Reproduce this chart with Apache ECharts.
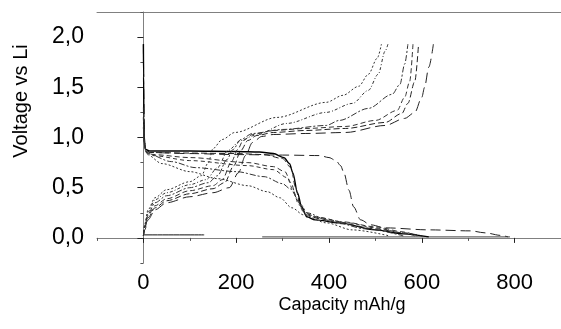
<!DOCTYPE html>
<html><head><meta charset="utf-8">
<script src="https://cdn.jsdelivr.net/npm/echarts@6/dist/echarts.min.js"></script>
<style>html,body{margin:0;padding:0;background:#fff}#c{width:561px;height:329px}</style>
</head><body><div id="c"></div>
<script>
// ---- tick values ----
const xMajorTicks = [0, 200, 400, 600, 800];
const xMinorTicks = [-100, 100, 300, 500, 700];
const yMajorTicks = [0, 0.5, 1.0, 1.5, 2.0];
const yMinorTicks = [-0.25, 0.25, 0.75, 1.25, 1.75, 2.25];

// ---- discharge curves [capacity mAh/g, voltage V] ----
const dis1 = [[0,1.93],[1,1.4],[2,1.0],[5,0.88],[15,0.85],[100,0.84],[200,0.83],[300,0.825],[380,0.82],[400,0.80],[415,0.77],[425,0.72],[432,0.65],[443,0.475],[453,0.31],[468,0.18],[490,0.13],[521,0.10],[616,0.08],[705,0.07],[737,0.05],[770,0.025],[786,0.01]];
const dis2 = [[0,1.93],[0.5,1.6],[1,1.2],[2,0.95],[5,0.88],[15,0.865],[100,0.865],[200,0.86],[250,0.855],[280,0.84],[303,0.80],[315,0.74],[322,0.65],[332,0.45],[341,0.31],[352,0.21],[370,0.18],[422,0.15],[500,0.08],[560,0.04],[615,0.01]];
const dis3 = [[0,1.3],[2,0.95],[5,0.87],[15,0.85],[100,0.845],[200,0.84],[260,0.83],[300,0.79],[318,0.70],[328,0.50],[338,0.33],[350,0.23],[380,0.19],[430,0.14],[500,0.09],[560,0.05],[600,0.02]];
const dis4 = [[0,1.2],[2,0.95],[5,0.86],[20,0.83],[100,0.80],[225,0.75],[280,0.71],[305,0.66],[318,0.55],[330,0.40],[345,0.26],[370,0.21],[430,0.16],[500,0.11],[560,0.06],[590,0.02]];
const dis5 = [[0,1.2],[2,0.95],[5,0.86],[20,0.82],[100,0.77],[225,0.72],[280,0.68],[310,0.60],[322,0.48],[335,0.33],[350,0.24],[380,0.20],[440,0.15],[500,0.10],[560,0.05],[585,0.02]];
const dis6 = [[0,1.1],[3,0.9],[8,0.84],[60,0.76],[112,0.70],[200,0.66],[260,0.61],[300,0.54],[316,0.49],[340,0.33],[352,0.25],[400,0.17],[480,0.09],[560,0.02]];
const dis7 = [[0,1.1],[3,0.9],[8,0.83],[40,0.74],[100,0.66],[160,0.59],[225,0.52],[267,0.46],[294,0.40],[320,0.30],[345,0.23],[394,0.15],[450,0.08],[530,0.02]];

// ---- charge curves ----
const chg1 = [[0,0.02],[3,0.08],[10,0.18],[25,0.28],[50,0.35],[100,0.41],[150,0.45],[185,0.50],[205,0.65],[220,0.82],[235,0.95],[255,1.01],[280,1.03],[350,1.04],[436,1.05],[521,1.12],[563,1.19],[585,1.25],[600,1.4],[606,1.5],[615,1.7],[625,1.93]];
const chg2 = [[0,0.02],[3,0.1],[10,0.2],[25,0.30],[50,0.37],[100,0.44],[150,0.49],[175,0.55],[195,0.72],[210,0.87],[225,0.97],[245,1.02],[280,1.05],[350,1.07],[436,1.09],[521,1.15],[557,1.24],[570,1.34],[585,1.56],[593,1.93]];
const chg3 = [[0,0.02],[3,0.11],[10,0.22],[25,0.32],[50,0.39],[100,0.47],[150,0.52],[170,0.58],[190,0.76],[203,0.88],[215,0.97],[235,1.03],[280,1.07],[350,1.09],[436,1.11],[500,1.17],[547,1.27],[563,1.40],[574,1.56],[581,1.93]];
const chg4 = [[0,0.02],[3,0.12],[10,0.24],[25,0.35],[50,0.42],[100,0.50],[140,0.55],[160,0.62],[180,0.78],[193,0.88],[210,0.98],[235,1.04],[300,1.08],[394,1.12],[422,1.17],[485,1.29],[536,1.43],[553,1.53],[563,1.73],[570,1.93]];
const chg5 = [[0,0.02],[3,0.13],[10,0.26],[25,0.38],[50,0.45],[100,0.53],[135,0.58],[160,0.70],[182,0.87],[210,0.97],[239,1.02],[309,1.14],[394,1.25],[451,1.34],[485,1.47],[506,1.63],[521,1.86],[527,1.93]];
const chg6 = [[0,0.02],[3,0.14],[10,0.28],[25,0.40],[50,0.48],[100,0.56],[125,0.62],[140,0.75],[150,0.89],[170,0.98],[197,1.05],[288,1.20],[394,1.35],[430,1.42],[464,1.51],[485,1.63],[504,1.79],[513,1.93]];

// ---- flat segments near 0 V ----
const flatA = [[0,0.03],[131,0.03]];
const flatB = [[256,0.01],[790,0.01]];

const fmtY = v => v.toFixed(1).replace('.', ',');

function curve(data, dash, color, width) {
  return {
    type: 'line', data: data, showSymbol: false, symbol: 'none',
    smooth: 0.3, smoothMonotone: 'x', silent: true, animation: false,
    lineStyle: { color: color || '#111', width: width || 1, type: dash }
  };
}

const chart = echarts.init(document.getElementById('c'), null, { renderer: 'canvas' });
const axisGrey = '#808080';
const FONT = 'Liberation Sans';
chart.setOption({
  animation: false,
  backgroundColor: '#fff',
  grid: { left: 97, top: 12, width: 472, height: 251, containLabel: false },
  xAxis: [
    { type: 'value', min: -100, max: 900, position: 'bottom',
      axisLine: { show: true, lineStyle: { color: axisGrey, width: 1 } },
      axisTick: { show: true, customValues: xMajorTicks, length: 5, lineStyle: { color: '#222' } },
      axisLabel: { customValues: xMajorTicks, fontSize: 22, color: '#000', margin: 9, fontFamily: FONT },
      splitLine: { show: false } },
    { type: 'value', min: -100, max: 900, position: 'bottom',
      axisLine: { show: false },
      axisTick: { show: true, customValues: xMinorTicks, length: 3, lineStyle: { color: '#555' } },
      axisLabel: { show: false }, splitLine: { show: false } },
    { type: 'value', min: -100, max: 900, position: 'top',
      axisLine: { show: true, lineStyle: { color: axisGrey, width: 1 } },
      axisTick: { show: false }, axisLabel: { show: false }, splitLine: { show: false } }
  ],
  yAxis: [
    { type: 'value', min: -0.25, max: 2.25, position: 'left',
      axisLine: { show: true, lineStyle: { color: axisGrey, width: 1 } },
      axisTick: { show: true, customValues: yMajorTicks, length: 6, lineStyle: { color: '#222' } },
      axisLabel: { customValues: yMajorTicks, formatter: fmtY, fontSize: 23, color: '#000', margin: 13, fontFamily: FONT },
      splitLine: { show: false } },
    { type: 'value', min: -0.25, max: 2.25, position: 'left',
      axisLine: { show: false },
      axisTick: { show: true, customValues: yMinorTicks, length: 3, lineStyle: { color: '#555' } },
      axisLabel: { show: false }, splitLine: { show: false } }
  ],
  graphic: [
    { type: 'text', x: 342, y: 305,
      style: { text: 'Capacity mAh/g', fontSize: 18, fill: '#000', fontFamily: FONT, align: 'center', verticalAlign: 'middle' } },
    { type: 'text', x: 21, y: 101, rotation: Math.PI / 2,
      style: { text: 'Voltage vs Li', fontSize: 20, fill: '#000', fontFamily: FONT, align: 'center', verticalAlign: 'middle' } }
  ],
  series: [
    curve(flatA, 'solid', '#111', 1),
    curve(flatB, 'solid', '#666', 1.2),
    curve(dis1, [10, 5], '#222'),
    curve(dis2, 'solid', '#000', 1.4),
    curve(dis3, [6, 3], '#222'),
    curve(dis4, [5, 3], '#333'),
    curve(dis5, [4, 3], '#333'),
    curve(dis6, [6, 2, 2, 2], '#333'),
    curve(dis7, [2, 2], '#333'),
    curve(chg1, [10, 5], '#222'),
    curve(chg2, [6, 3], '#222'),
    curve(chg3, [5, 3], '#333'),
    curve(chg4, [6, 2, 2, 2], '#333'),
    curve(chg5, [3, 2, 1, 2], '#333'),
    curve(chg6, [2, 2], '#333')
  ]
});
</script></body></html>
